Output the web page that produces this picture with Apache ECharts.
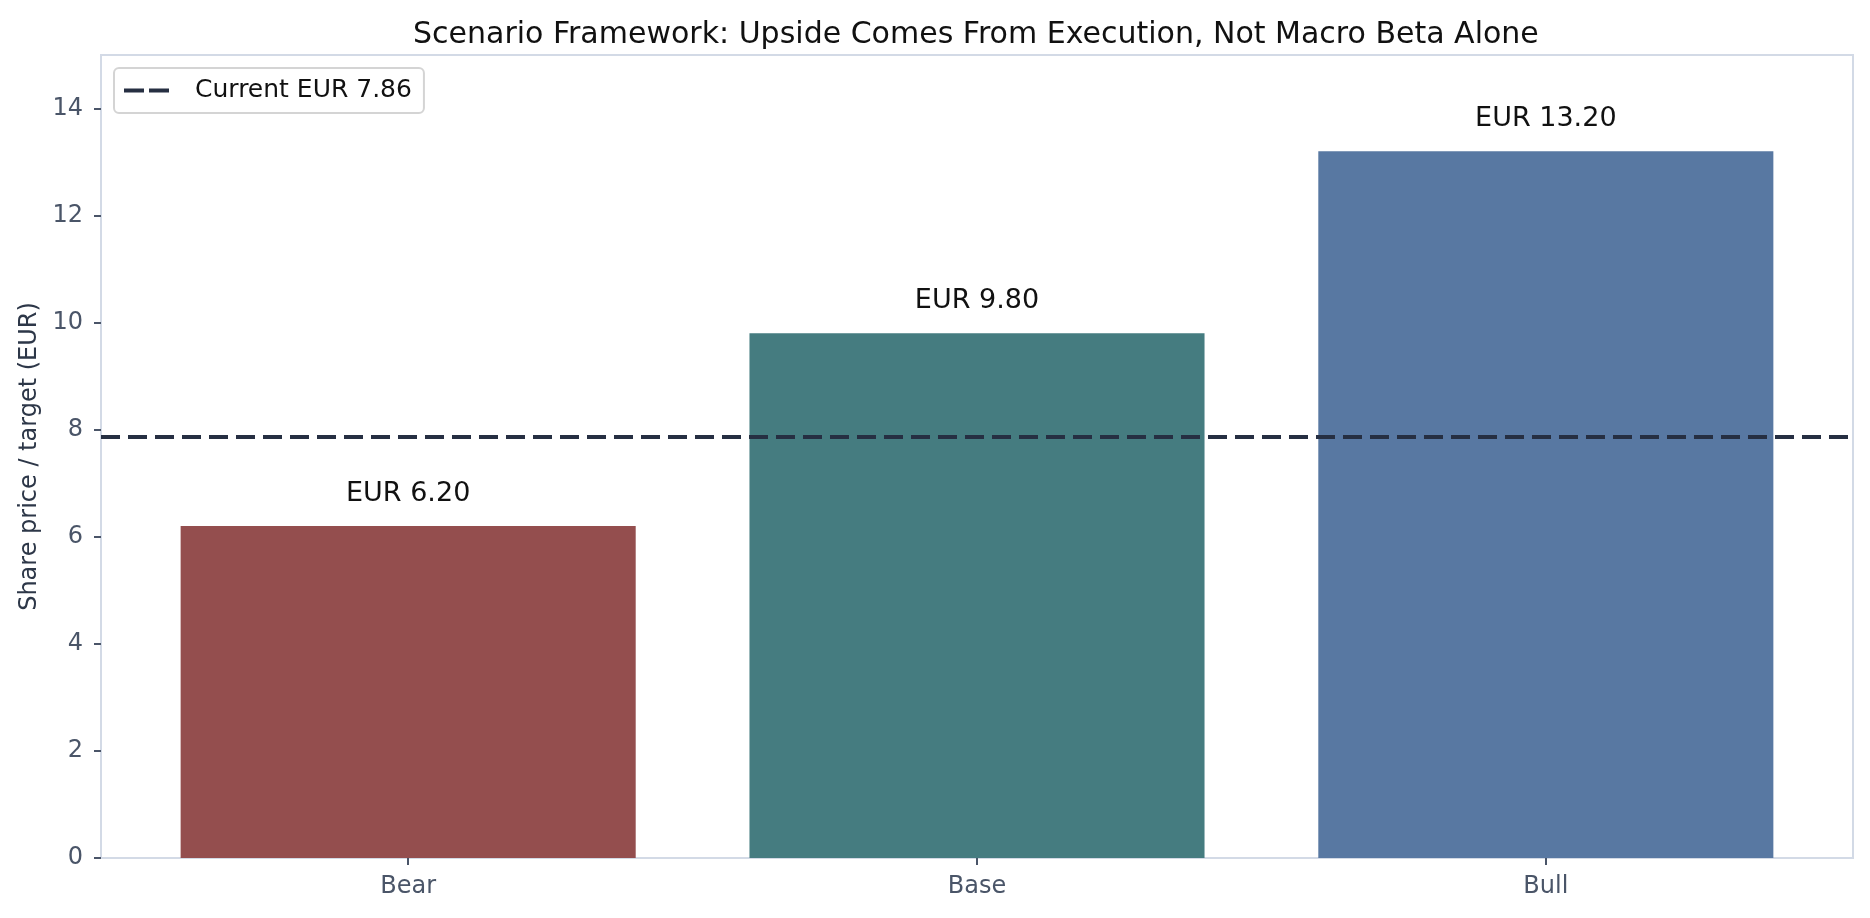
<!DOCTYPE html>
<html>
<head>
<meta charset="utf-8">
<script src="https://cdn.jsdelivr.net/npm/echarts@6/dist/echarts.min.js"></script>
<style>
html,body{margin:0;padding:0;background:#fff;}
#chart{width:1870px;height:918px;}
</style>
</head>
<body>
<div id="chart"></div>
<script>
const categories = ['Bear', 'Base', 'Bull'];
const targetValues = [6.20, 9.80, 13.20];
const barColors = ['#944e4e', '#457c80', '#5878a2'];
const currentPrice = 7.86;
const currentLabel = 'Current EUR 7.86';
const yTickValues = [0, 2, 4, 6, 8, 10, 12, 14];
const yRange = [0, 15];
const xRange = [-0.54, 2.54];
const xTickValues = [0, 1, 2];

const font = 'DejaVu Sans';
const gridLeft = 101, gridRight = 17;
const gridWidth = 1870 - gridLeft - gridRight;
const barPx = 0.8 * gridWidth / (xRange[1] - xRange[0]);

const chart = echarts.init(document.getElementById('chart'), null, { renderer: 'canvas' });

chart.setOption({
  animation: false,
  backgroundColor: '#ffffff',
  title: {
    text: 'Scenario Framework: Upside Comes From Execution, Not Macro Beta Alone',
    left: 408,
    top: 15,
    textStyle: { fontFamily: font, fontSize: 30, fontWeight: 'normal', color: '#111111' }
  },
  legend: {
    left: 114,
    top: 68,
    data: [{ name: currentLabel, icon: 'path://M0,0H20V4H0Z M25,0H45V4H25Z' }],
    itemWidth: 45,
    itemHeight: 4,
    padding: [10, 12, 10, 10],
    backgroundColor: '#ffffff',
    borderColor: '#d4d4d4',
    borderWidth: 2,
    borderRadius: 5,
    itemStyle: { color: '#262f42' },
    textStyle: { fontFamily: font, fontSize: 25, color: '#111111', padding: [0, 0, 0, 21] }
  },
  grid: {
    left: gridLeft, right: gridRight, top: 55, bottom: 60,
    show: true,
    borderColor: '#d3dae6',
    borderWidth: 2,
    containLabel: false
  },
  xAxis: {
    type: 'value',
    min: xRange[0],
    max: xRange[1],
    axisLine: { show: true, onZero: false, lineStyle: { color: '#d3dae6', width: 2 } },
    axisTick: { show: true, length: 7, customValues: xTickValues, lineStyle: { color: '#4a5568', width: 2 } },
    axisLabel: {
      fontFamily: font, fontSize: 24, color: '#4a5568', margin: 17,
      customValues: xTickValues,
      formatter: v => categories[Math.round(v)] || ''
    },
    splitLine: { show: false }
  },
  yAxis: {
    type: 'value',
    min: yRange[0],
    max: yRange[1],
    name: 'Share price / target (EUR)',
    nameLocation: 'middle',
    nameGap: 58,
    nameTextStyle: { fontFamily: font, fontSize: 24, color: '#2d3748' },
    axisLine: { show: false, onZero: false },
    axisTick: { show: true, length: 7, customValues: yTickValues, lineStyle: { color: '#4a5568', width: 2 } },
    axisLabel: { fontFamily: font, fontSize: 24, color: '#4a5568', margin: 18, customValues: yTickValues },
    splitLine: { show: false }
  },
  series: [
    {
      type: 'bar',
      data: targetValues.map((v, i) => ({ value: [i, v], itemStyle: { color: barColors[i] } })),
      barWidth: barPx,
      label: {
        show: true,
        position: 'top',
        distance: 19,
        fontFamily: font,
        fontSize: 27,
        color: '#111111',
        formatter: p => 'EUR ' + p.value[1].toFixed(2)
      },
      z: 2
    },
    {
      name: currentLabel,
      type: 'line',
      data: [],
      symbol: 'none',
      lineStyle: { color: '#262f42', width: 4, type: [19, 8] },
      itemStyle: { color: '#262f42' },
      markLine: {
        silent: true,
        symbol: ['none', 'none'],
        label: { show: false },
        lineStyle: { color: '#262f42', width: 4, type: [19, 8] },
        data: [{ yAxis: currentPrice }]
      },
      z: 5
    }
  ]
});
</script>
</body>
</html>
